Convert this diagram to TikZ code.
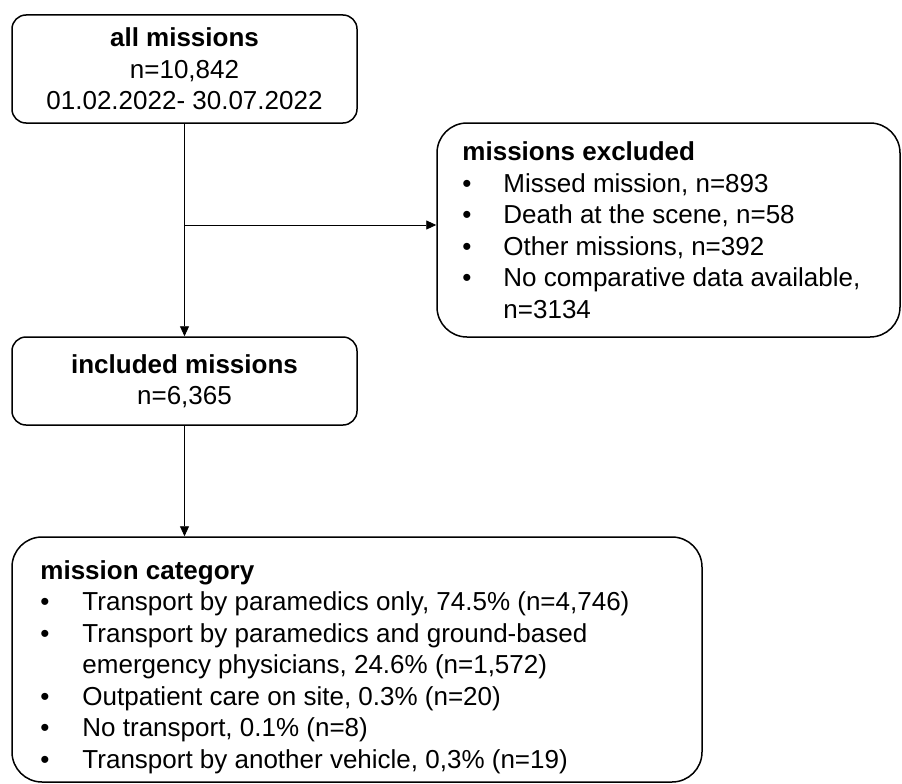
\documentclass[tikz,border=0pt]{standalone}
\usepackage{fontspec}
\setmainfont{Liberation Sans}
\usetikzlibrary{arrows.meta}

\tikzset{every picture/.style={line width=0.9pt}}
\tikzset{
  flowbox/.style={draw, rounded corners=14pt, line width=1.5pt, inner sep=0pt, align=center},
  listbox/.style={draw, rounded corners=30pt, line width=1.5pt, inner sep=0pt},
  listtext/.style={inner sep=0pt, align=left, anchor=base west},
  flowarrow/.style={-{Triangle[length=10pt,width=9pt]}, line width=0.9pt}
}
\newcommand{\bitem}[2]{\makebox[#1][l]{\textbullet}#2}

\begin{document}
\begin{tikzpicture}[x=1pt,y=1pt,yscale=-1,xscale=1]
\fontsize{26}{31.5}\selectfont
\useasboundingbox (0,0) rectangle (902,784);

%Shape: Rounded Rectangle [all missions]
\node[flowbox, minimum width=345pt, minimum height=108pt] (all) at (184.5,69)
  {\textbf{all missions}\\n=10,842\\01.02.2022- 30.07.2022};

%Shape: Rounded Rectangle [missions excluded]
\node[listbox, minimum width=463pt, minimum height=214pt] (excl) at (668.5,230) {};
% Text Node (base = last line)
\node[listtext] (excltxt) at (462,318)
  {\textbf{missions excluded}\\
   \bitem{41pt}{Missed mission, n=893}\\
   \bitem{41pt}{Death at the scene, n=58}\\
   \bitem{41pt}{Other missions, n=392}\\
   \bitem{41pt}{No comparative data available,}\\
   \hspace*{41pt}n=3134};

%Shape: Rounded Rectangle [included missions]
\node[flowbox, minimum width=345pt, minimum height=88pt] (inc) at (184.5,381)
  {\textbf{included missions}\\n=6,365};

%Shape: Rounded Rectangle [mission category]
\node[listbox, minimum width=690pt, minimum height=245pt] (cat) at (357,659.5) {};
% Text Node (base = last line)
\node[listtext] (cattxt) at (40,768)
  {\textbf{mission category}\\
   \bitem{42pt}{Transport by paramedics only, 74.5\% (n=4,746)}\\
   \bitem{42pt}{Transport by paramedics and ground-based}\\
   \hspace*{42pt}emergency physicians, 24.6\% (n=1,572)\\
   \bitem{42pt}{Outpatient care on site, 0.3\% (n=20)}\\
   \bitem{42pt}{No transport, 0.1\% (n=8)}\\
   \bitem{42pt}{Transport by another vehicle, 0,3\% (n=19)}};

%Straight Lines
\coordinate (split) at (184.5,225);
\draw[flowarrow] (all.south) -- (inc.north);
\draw[flowarrow] (split) -- (split -| excl.west);
\draw[flowarrow] (inc.south) -- (inc.south |- cat.north);

\end{tikzpicture}
\end{document}
